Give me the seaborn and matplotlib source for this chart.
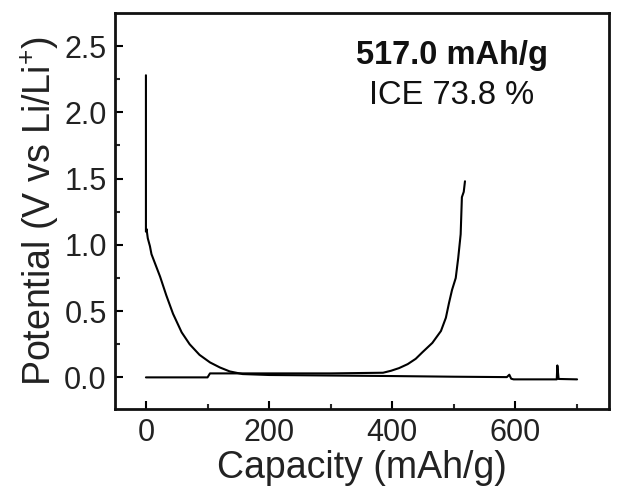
import numpy as np
import pandas as pd
import matplotlib
matplotlib.use('Agg')
import matplotlib.pyplot as plt
import seaborn as sns

# first discharge (lithiation) curve
discharge_cap = [0, 0, 1, 3, 6.5, 9, 23, 33, 44, 58, 71, 87, 104, 120, 136, 157,
                 200, 300, 400, 500, 586, 590, 593, 597, 650, 667, 668, 670, 700]
discharge_v = [2.28, 1.10, 1.12, 1.05, 0.99, 0.93, 0.76, 0.62, 0.48, 0.34, 0.25, 0.17, 0.113,
               0.075, 0.045, 0.025, 0.018, 0.014, 0.01, 0.005, 0.002, 0.02, -0.01, -0.015,
               -0.015, -0.015, 0.09, -0.012, -0.015]

# first charge (delithiation) curve
charge_cap = [0, 100, 104, 200, 300, 385, 398, 411, 425, 438, 449, 465, 479, 487, 492,
              497, 503, 507, 511, 513, 516, 518]
charge_v = [0.0, 0.0, 0.03, 0.03, 0.03, 0.035, 0.05, 0.07, 0.10, 0.14, 0.19, 0.26, 0.35, 0.45,
            0.56, 0.66, 0.75, 0.90, 1.08, 1.36, 1.40, 1.48]

x_ticks = [0, 200, 400, 600]
y_ticks = [0.0, 0.5, 1.0, 1.5, 2.0, 2.5]

sns.set_style('ticks')
plt.rcParams['font.family'] = ['Liberation Sans', 'DejaVu Sans']
plt.rcParams['mathtext.fontset'] = 'custom'
plt.rcParams['mathtext.rm'] = 'Liberation Sans'
plt.rcParams['mathtext.it'] = 'Liberation Sans:italic'
plt.rcParams['mathtext.bf'] = 'Liberation Sans:bold'

df_dis = pd.DataFrame({'cap': discharge_cap, 'v': discharge_v})
df_chg = pd.DataFrame({'cap': charge_cap, 'v': charge_v})

fig = plt.figure(figsize=(6.19, 4.99), dpi=100)
ax = fig.add_axes([0.186, 0.180, 0.798, 0.794])

sns.lineplot(data=df_dis, x='cap', y='v', ax=ax, color='black', lw=1.5,
             sort=False, estimator=None)
sns.lineplot(data=df_chg, x='cap', y='v', ax=ax, color='black', lw=1.5,
             sort=False, estimator=None)

ax.set_xlim(-50, 752)
ax.set_ylim(-0.24, 2.75)
ax.set_xticks(x_ticks)
ax.set_yticks(y_ticks)
ax.set_xticks([100, 300, 500, 700], minor=True)
ax.set_yticks([0.25, 0.75, 1.25, 1.75, 2.25], minor=True)
ax.set_yticklabels(['0.0', '0.5', '1.0', '1.5', '2.0', '2.5'])
ax.tick_params(which='major', direction='in', length=6, width=1.5, labelsize=22,
               colors='black', labelcolor='#222222', pad=6)
ax.tick_params(which='minor', direction='in', length=3.5, width=1.5)
ax.tick_params(top=False, right=False)

for sp in ax.spines.values():
    sp.set_linewidth(2)
    sp.set_color('#111111')

ax.set_xlabel('Capacity (mAh/g)', fontsize=27, color='#222222', labelpad=2)
ax.set_ylabel('Potential (V vs Li/Li$^{+}$)', fontsize=27, color='#222222', labelpad=2)

ax.text(0.682, 0.892, '517.0 mAh/g', transform=ax.transAxes, ha='center', va='center',
        fontsize=23.5, fontweight='bold', color='#111111')
ax.text(0.682, 0.791, 'ICE 73.8 %', transform=ax.transAxes, ha='center', va='center',
        fontsize=23.5, color='#111111')

fig.savefig('out.png', dpi=100)
